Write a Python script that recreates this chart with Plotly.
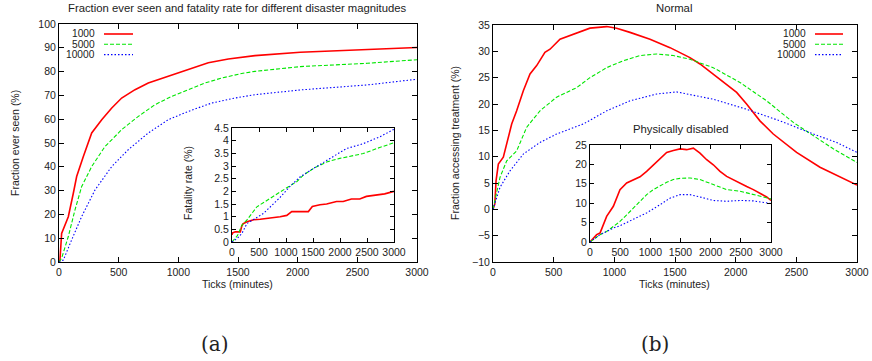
import plotly.graph_objects as go

W, H = 872, 361

series_names = ["1000", "5000", "10000"]
colors = ["#ff0000", "#00e600", "#0000ff"]
dashes = ["solid", "4px,2px", "1.5px,2px"]
widths = [1.6, 1.1, 1.1]

# (a) main: fraction ever seen
seen_x = [
    [0, 8, 22, 78, 120, 148, 204, 274, 358, 442, 525, 637, 748, 916, 1084, 1251, 1419, 1642, 2022, 2500, 3000],
    [0, 22, 78, 134, 190, 274, 385, 525, 665, 804, 944, 1084, 1223, 1363, 1531, 1642, 2022, 2584, 3000],
    [0, 36, 106, 190, 302, 442, 581, 748, 916, 1084, 1280, 1475, 1642, 2022, 2584, 3000],
]
seen_y = [
    [0, 0.8, 12, 19, 28.9, 35.9, 44.3, 54.2, 59.8, 64.7, 68.9, 72.4, 75.2, 78.0, 80.8, 83.7, 85.3, 86.7, 88.1, 89.2, 90.1],
    [0, 1.6, 10.7, 21.9, 31.7, 40.1, 48.5, 55.6, 61.2, 66.1, 69.6, 72.4, 75.2, 77.3, 79.2, 80.1, 82.1, 83.5, 85],
    [0, 0.8, 9.3, 19.1, 30.3, 40.1, 47.2, 54.2, 59.8, 63.3, 66.8, 68.9, 70.3, 72.3, 74.4, 76.8],
]

# (a) inset: fatality rate
fat_x = [
    [0, 10, 61, 154, 180, 203, 277, 400, 522, 768, 891, 1014, 1106, 1414, 1450, 1488, 1629, 1752, 1936, 2059, 2212, 2366, 2489, 2673, 2827, 3000],
    [0, 100, 184, 277, 461, 645, 891, 1014, 1198, 1322, 1506, 1752, 1997, 2428, 2735, 3000],
    [0, 100, 184, 277, 584, 891, 1075, 1260, 1506, 1813, 2120, 2428, 2735, 3000],
]
fat_y = [
    [0.28, 0.36, 0.4, 0.4, 0.62, 0.72, 0.8, 0.88, 0.9, 0.95, 1.0, 1.05, 1.2, 1.2, 1.32, 1.4, 1.47, 1.5, 1.6, 1.6, 1.7, 1.7, 1.8, 1.87, 1.9, 2.0],
    [0, 0.25, 0.67, 0.87, 1.39, 1.65, 1.98, 2.14, 2.38, 2.64, 2.9, 3.16, 3.3, 3.49, 3.73, 3.92],
    [0, 0.15, 0.34, 0.73, 1.13, 1.76, 2.2, 2.57, 2.9, 3.3, 3.69, 3.88, 4.15, 4.45],
]

# (b) main: fraction accessing treatment (Normal)
treat_x = [
    [0, 15, 25, 44, 85, 113, 154, 195, 250, 305, 360, 428, 470, 552, 634, 717, 799, 937, 1019, 1129, 1294, 1459, 1623, 1706, 1870, 2008, 2090, 2200, 2310, 2502, 2695, 2859, 3000],
    [0, 58, 113, 195, 278, 387, 524, 689, 799, 937, 1074, 1211, 1349, 1486, 1623, 1815, 2035, 2255, 2475, 2640, 2804, 3000],
    [0, 58, 140, 250, 387, 524, 744, 937, 1129, 1349, 1513, 1815, 2090, 2365, 2640, 2832, 3000],
]
treat_y = [
    [0, 1, 5.4, 8.6, 9.9, 12.4, 16.2, 18.7, 22.5, 25.7, 27.3, 29.8, 30.4, 32.3, 33.0, 33.6, 34.4, 34.7, 34.4, 33.6, 32.3, 30.7, 28.8, 27.6, 24.7, 22.2, 20.0, 16.8, 14.3, 10.8, 8.0, 6.1, 4.6],
    [0, 6.1, 9.2, 11.1, 15.6, 18.7, 21.3, 23.1, 25.0, 26.9, 28.2, 29.2, 29.5, 29.2, 28.5, 26.9, 24.1, 20.6, 16.5, 14.0, 11.5, 8.9],
    [0, 4.2, 7.3, 10.5, 12.7, 14.3, 16.2, 18.7, 20.6, 21.9, 22.3, 20.9, 19.0, 16.8, 14.3, 12.7, 10.8],
]

# (b) inset: physically disabled
dis_x = [
    [0, 110, 166, 276, 387, 497, 608, 718, 829, 939, 1050, 1160, 1271, 1381, 1492, 1602, 1713, 1823, 1934, 2044, 2155, 2265, 2376, 2486, 2597, 2707, 2818, 2928, 3000],
    [0, 166, 276, 387, 497, 608, 718, 829, 939, 1050, 1160, 1271, 1381, 1492, 1658, 1823, 2044, 2265, 2486, 2707, 3000],
    [0, 166, 276, 387, 497, 718, 939, 1160, 1326, 1492, 1658, 1823, 2044, 2265, 2486, 2707, 3000],
]
dis_y = [
    [0, 1.9, 2.3, 6.6, 9.2, 13.5, 15.2, 16.1, 16.8, 18.2, 19.9, 21.6, 23.1, 23.6, 24.0, 23.8, 24.2, 22.9, 21.2, 19.9, 18.2, 16.9, 16.1, 15.2, 14.3, 13.5, 12.5, 11.6, 10.7],
    [0, 1.9, 2.7, 4.0, 5.3, 7.0, 8.8, 10.5, 12.2, 13.5, 14.5, 15.4, 16.1, 16.4, 16.5, 16.1, 14.8, 13.5, 13.1, 12.2, 11.1],
    [0, 1.9, 2.7, 3.6, 4.2, 5.8, 7.5, 9.6, 11.3, 12.2, 12.2, 11.6, 10.7, 10.5, 10.7, 10.6, 9.9],
]

FONT = "Liberation Sans"
fig = go.Figure()

def add(xs, ys, xa, ya):
    for i in range(3):
        fig.add_trace(go.Scatter(
            x=xs[i], y=ys[i], mode="lines", xaxis=xa, yaxis=ya, showlegend=False,
            line=dict(color=colors[i], width=widths[i], dash=dashes[i])))

add(seen_x, seen_y, "x", "y")
add(fat_x, fat_y, "x2", "y2")
add(treat_x, treat_y, "x3", "y3")
add(dis_x, dis_y, "x4", "y4")

def fx(px):
    return px / W

def fy(py):
    return 1 - py / H

def px_x(a, b):
    return [fx(a), fx(b)]

def px_y(top, bot):
    return [fy(bot), fy(top)]

def ax(domain, rng, dtick, anchor, ticklen=5, tickfont=10.5):
    return dict(domain=domain, range=rng, dtick=dtick, tick0=0,
                anchor=anchor, automargin=False, showgrid=False, zeroline=False, showline=True,
                linecolor="black", linewidth=1, mirror="allticks", ticks="inside",
                ticklen=ticklen, tickcolor="black", tickwidth=1,
                tickfont=dict(family=FONT, size=tickfont, color="#222"))

fig.update_layout(
    width=W, height=H, margin=dict(l=0, r=0, t=0, b=0, autoexpand=False),
    paper_bgcolor="white", plot_bgcolor="white",
    xaxis=ax(px_x(59, 417), [0, 3000], 500, "y"),
    yaxis=ax(px_y(24, 262), [0, 100], 10, "x"),
    xaxis2=ax(px_x(232, 394), [0, 3000], 500, "y2", 4),
    yaxis2=ax(px_y(128, 242), [0, 4.5], 0.5, "x2", 4),
    xaxis3=ax(px_x(493, 857), [0, 3000], 500, "y3"),
    yaxis3=ax(px_y(25, 262), [-10, 35], 5, "x3"),
    xaxis4=ax(px_x(590, 771), [0, 3000], 500, "y4", 4),
    yaxis4=ax(px_y(145, 242), [0, 25], 5, "x4", 4),
)

def text(x, y, s, size=10.5, angle=0, family=FONT, xanchor="center"):
    fig.add_annotation(x=fx(x), y=fy(y), xref="paper", yref="paper", text=s,
                       showarrow=False, textangle=angle, xanchor=xanchor, yanchor="middle",
                       font=dict(family=family, size=size, color="#222"))

text(237, 8, "Fraction ever seen and fatality rate for different disaster magnitudes", size=11.3)
text(674, 8, "Normal", size=11.3)
text(680, 129, "Physically disabled", size=11.3)
text(237, 284, "Ticks (minutes)")
text(674, 284, "Ticks (minutes)")
text(15, 143, "Fraction ever seen (%)", angle=-90)
text(455, 143, "Fraction accessing treatment (%)", angle=-90)
text(188, 183, "Fatality rate (%)", angle=-90)
text(215, 344, "(a)", size=20, family="DejaVu Serif")
text(655, 344, "(b)", size=20, family="DejaVu Serif")

# legends (text right-aligned, sample to the right)
for lx_text, lx0, lx1 in [(97, 104, 133), (808, 815, 843)]:
    for i, name in enumerate(series_names):
        yy = 34 + 10.3 * i
        text(lx_text, yy, name, size=10.2, xanchor="right")
        fig.add_shape(type="line", xref="paper", yref="paper",
                      x0=fx(lx0), x1=fx(lx1), y0=fy(yy), y1=fy(yy),
                      line=dict(color=colors[i], width=widths[i], dash=dashes[i]))

# remove the page's default body margin so the figure sits at the window's corner
fig.write_html("out.html", config={"displayModeBar": False},
               post_script="document.body.style.margin='0';")
